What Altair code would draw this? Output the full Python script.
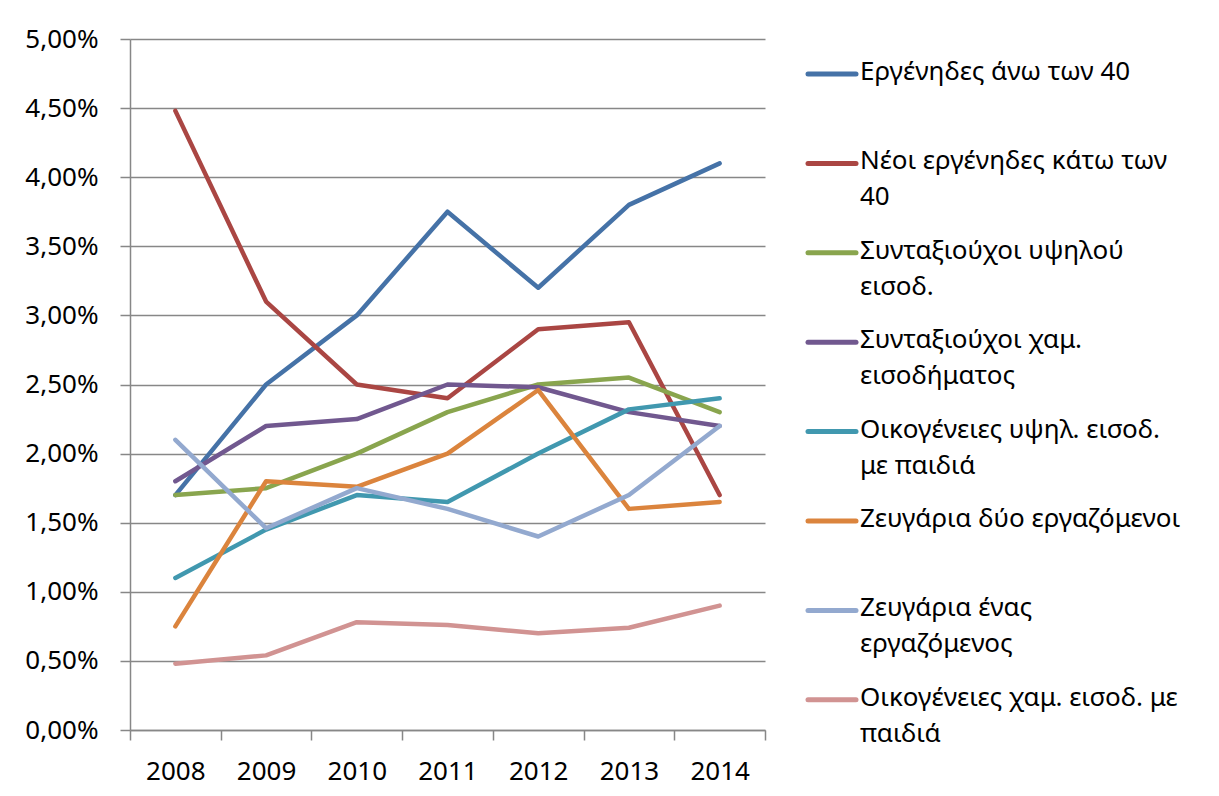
import altair as alt
import pandas as pd

FONT = "Noto Sans"
GRAY = "#878787"

years = ["2008", "2009", "2010", "2011", "2012", "2013", "2014"]

series = [
    "Εργένηδες άνω των 40",
    "Νέοι εργένηδες κάτω των 40",
    "Συνταξιούχοι υψηλού εισοδ.",
    "Συνταξιούχοι χαμ. εισοδήματος",
    "Οικογένειες υψηλ. εισοδ. με παιδιά",
    "Ζευγάρια δύο εργαζόμενοι",
    "Ζευγάρια ένας εργαζόμενος",
    "Οικογένειες χαμ. εισοδ. με παιδιά",
]

legend_labels = [
    "Εργένηδες άνω των 40",
    "Νέοι εργένηδες κάτω των\n40",
    "Συνταξιούχοι υψηλού\nεισοδ.",
    "Συνταξιούχοι χαμ.\nεισοδήματος",
    "Οικογένειες υψηλ. εισοδ.\nμε παιδιά",
    "Ζευγάρια δύο εργαζόμενοι",
    "Ζευγάρια ένας\nεργαζόμενος",
    "Οικογένειες χαμ. εισοδ. με\nπαιδιά",
]

colors = ["#4572A7", "#AA4643", "#89A54E", "#71588F",
          "#4198AF", "#DB843D", "#93A9CF", "#D19392"]

# values in percent
v_single_over40 = [1.70, 2.50, 3.00, 3.75, 3.20, 3.80, 4.10]
v_young_single = [4.48, 3.10, 2.50, 2.40, 2.90, 2.95, 1.70]
v_pens_high = [1.70, 1.75, 2.00, 2.30, 2.50, 2.55, 2.30]
v_pens_low = [1.80, 2.20, 2.25, 2.50, 2.48, 2.30, 2.20]
v_fam_high = [1.10, 1.45, 1.70, 1.65, 2.00, 2.32, 2.40]
v_couple_two = [0.75, 1.80, 1.76, 2.00, 2.46, 1.60, 1.65]
v_couple_one = [2.10, 1.46, 1.75, 1.60, 1.40, 1.70, 2.20]
v_fam_low = [0.48, 0.54, 0.78, 0.76, 0.70, 0.74, 0.90]

y_ticks = [0, 0.5, 1.0, 1.5, 2.0, 2.5, 3.0, 3.5, 4.0, 4.5, 5.0]

all_values = [v_single_over40, v_young_single, v_pens_high, v_pens_low,
              v_fam_high, v_couple_two, v_couple_one, v_fam_low]

rows = []
for s, vals in zip(series, all_values):
    for yr, v in zip(years, vals):
        rows.append({"series": s, "year": yr, "value": v})
df = pd.DataFrame(rows)

color_scale = alt.Scale(domain=series, range=colors)

lines = alt.Chart(df).mark_line(
    strokeWidth=4.5, strokeCap="round", strokeJoin="round"
).encode(
    x=alt.X("year:N", sort=years,
            scale=alt.Scale(type="band", paddingInner=0, paddingOuter=0),
            axis=alt.Axis(title=None, labelAngle=0, tickBand="extent", grid=False,
                          tickSize=10, labelPadding=18)),
    y=alt.Y("value:Q", scale=alt.Scale(domain=[0, 5], nice=False),
            axis=alt.Axis(title=None, values=y_ticks, grid=True, tickSize=10,
                          labelPadding=22,
                          labelExpr="replace(format(datum.value, '.2f'), '.', ',') + '%'")),
    color=alt.Color("series:N", scale=color_scale, legend=None),
).properties(width=635, height=691)

leg_df = pd.DataFrame({"series": series, "label": legend_labels})
leg_base = alt.Chart(leg_df).encode(
    y=alt.Y("series:N", sort=series,
            scale=alt.Scale(type="point", padding=0.365, align=0.537),
            axis=None)
)
leg_sym = leg_base.mark_rule(strokeWidth=5, strokeCap="round").encode(
    x=alt.value(8), x2=alt.value(56),
    color=alt.Color("series:N", scale=color_scale, legend=None),
)
leg_txt = leg_base.mark_text(
    align="left", baseline="top", dy=-15, lineBreak="\n",
    fontSize=26, lineHeight=36, font=FONT, color="black"
).encode(x=alt.value(60), text="label:N")
legend = (leg_sym + leg_txt).properties(width=400, height=691)

chart = alt.hconcat(lines, legend, spacing=34).properties(
    padding={"left": 16, "top": 18, "right": 5, "bottom": 6},
    background="white",
).configure_view(stroke=None).configure_axis(
    labelFont=FONT, labelFontSize=26, labelColor="black",
    domainColor=GRAY, domainWidth=1.5, tickColor=GRAY, tickWidth=1.5,
    gridColor=GRAY, gridWidth=1.5,
)

chart.save("out.html", embed_options={"renderer": "svg", "actions": False})
